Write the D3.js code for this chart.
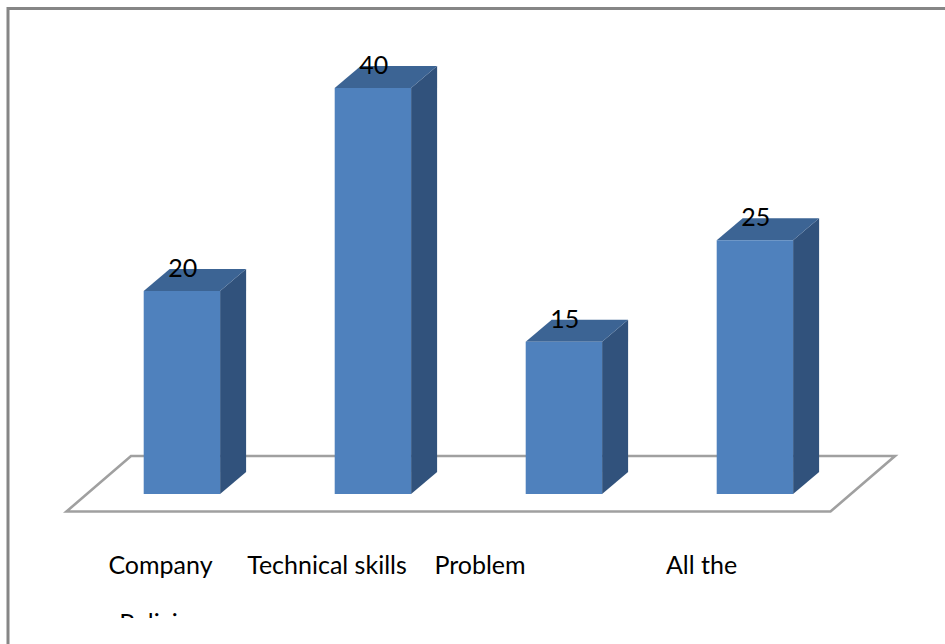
<!DOCTYPE html>
<html><head><meta charset="utf-8">
<script src="https://cdn.jsdelivr.net/npm/d3@7"></script>
<style>html,body{margin:0;padding:0;background:#fff;overflow:hidden}svg{display:block}</style>
</head><body><div id="c"></div>
<script>
const categories = ["Company", "Technical skills", "Problem", "All the"];
const values = [20, 40, 15, 25];
const clippedLine = "Policies";

const W = 945, H = 644;
const svg = d3.select("#c").append("svg").attr("width", W).attr("height", H);
const font = "Lato, Carlito, 'Open Sans', sans-serif";
const fontSize = 25;

svg.append("rect").attr("x", 8).attr("y", 8.5).attr("width", 960).attr("height", 700)
  .attr("fill", "#fff").attr("stroke", "#868686").attr("stroke-width", 3);

const x = d3.scaleBand().domain(categories).range([86.4, 850.4]).paddingInner(0.6).paddingOuter(0.3);
const bw = x.bandwidth();
const y = d3.scaleLinear().domain([0, 40]).range([494, 88]);
const dx = 26, dy = -22;

svg.append("path")
  .attr("d", "M66.5,511.5 L830.5,511.5 L895,456 L131,456 Z")
  .attr("fill", "#fff").attr("stroke", "#a0a0a0").attr("stroke-width", 2.6);

const g = svg.selectAll(".bar").data(categories.map((c, i) => ({c, v: values[i]}))).join("g");
g.append("path").attr("fill", "#31527c").attr("d", d => {
  const a = x(d.c) + bw, t = y(d.v), b = y(0);
  return `M${a},${t} L${a + dx},${t + dy} L${a + dx},${b + dy} L${a},${b} Z`;
});
g.append("path").attr("fill", "#3c6494").attr("d", d => {
  const a = x(d.c), t = y(d.v);
  return `M${a},${t} L${a + dx},${t + dy} L${a + bw + dx},${t + dy} L${a + bw},${t} Z`;
});
g.append("rect").attr("fill", "#4f81bd")
  .attr("x", d => x(d.c)).attr("y", d => y(d.v))
  .attr("width", bw).attr("height", d => y(0) - y(d.v));
g.append("text").attr("x", d => x(d.c) + 39).attr("y", d => y(d.v) - 14)
  .attr("text-anchor", "middle").attr("font-family", font).attr("font-size", fontSize).attr("fill", "#000")
  .text(d => d.v);

const labelCenters = [160.5, 327, 480, 701.5];
svg.selectAll(".cat").data(categories).join("text").attr("class", "cat")
  .attr("x", (d, i) => labelCenters[i]).attr("y", 573.5).attr("text-anchor", "middle")
  .attr("font-family", font).attr("font-size", fontSize).attr("fill", "#000").text(d => d);

svg.append("clipPath").attr("id", "cl").append("rect").attr("x", 0).attr("y", 600).attr("width", W).attr("height", 18);
svg.append("text").attr("clip-path", "url(#cl)").attr("x", 160.5).attr("y", 632).attr("text-anchor", "middle")
  .attr("font-family", font).attr("font-size", fontSize).attr("fill", "#000").text(clippedLine);
</script></body></html>
